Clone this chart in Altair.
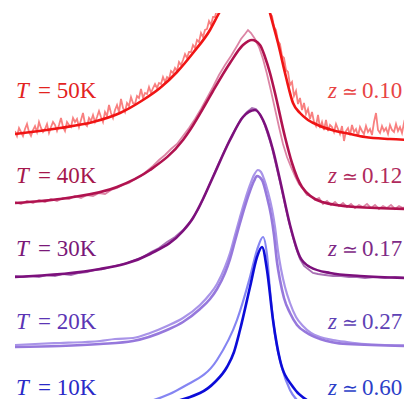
import altair as alt
import pandas as pd

temps = ["50K", "40K", "30K", "20K", "10K"]
z_labels = ["0.10", "0.12", "0.17", "0.27", "0.60"]
offsets = [267, 198, 129, 60, -8]
label_level = [309, 224, 151, 78, 12]

fit_colors = ["#f01414", "#b0124f", "#7c107c", "#9678dc", "#0c0cd8"]
data_colors = ["#f88080", "#dc85a5", "#a870b4", "#a994e8", "#8585f2"]
t_colors = ["#e3231f", "#a5174c", "#7a1878", "#5b35b5", "#2a2ac8"]
z_colors = ["#e84444", "#b02a5c", "#7e2a86", "#5e42b5", "#2c40c8"]

# ---- 50K ----
fit_50_x = [0, 45, 78, 105, 128, 145, 162, 178, 195, 203, 209, 215, 223, 230, 237, 243, 247, 251,
            253, 255, 263, 271, 278, 285, 293, 305, 317, 335, 350, 375, 397]
fit_50_y = [6, 12, 18, 27, 40, 52, 68, 87, 110, 125, 136, 147, 162, 173, 175, 168, 157, 143,
            135, 127, 97, 63, 37, 27, 20, 14, 10, 6, 3, 1, 0]
data_50_x = list(range(0, 211, 2)) + [216, 224, 232, 240, 247] + list(range(253, 398, 2))
data_50_y = [9, 4, 12, 8, 4, 11, 16, 8, 4, 10, 14, 8, 18, 12, 8, 11, 16, 7, 13, 18,
             15, 9, 15, 22, 13, 9, 18, 15, 13, 22, 18, 21, 13, 20, 27, 16, 14, 22, 19, 25,
             18, 23, 29, 23, 18, 28, 24, 35, 27, 22, 30, 35, 28, 41, 32, 28, 37, 34, 43, 37,
             36, 44, 42, 51, 42, 47, 46, 53, 47, 52, 56, 52, 57, 56, 63, 58, 63, 61, 69, 67,
             72, 69, 78, 75, 80, 86, 82, 88, 88, 95, 92, 100, 98, 107, 103, 110, 111, 119, 115, 123,
             123, 131, 130, 140, 139, 146,
             165, 185, 196, 196, 180,
             138, 126, 124, 113, 110, 99, 96, 84, 82, 70, 68, 55, 58, 44, 49, 36, 42, 30, 37, 26,
             31, 21, 28, 18, 14, 25, 12, 18, 10, 20, 9, 15, 13, 8, 16, 11, 6, 14, -1, 9,
             12, 5, 15, 8, 11, 4, 13, 9, 6, 14, 8, 11, 5, 18, 27, 10, 7, 14, 9, 12,
             6, 15, 10, 8, 16, 9, 13, 7, 17, 11, 8, 14, 10]

# ---- 40K ----
fit_40_x = [0, 52, 102, 135, 168, 175, 190, 198, 215, 228, 237, 245, 250, 255, 260, 270, 277, 287, 307, 340, 397]
fit_40_y = [6, 11, 22, 39, 69, 79, 104, 118, 146, 164, 169, 164, 152, 136, 116, 72, 46, 22, 7, 2, 0]
data_40_x = (list(range(0, 223, 6)) + [226, 230, 233, 236, 240, 244, 248]
             + list(range(252, 393, 4)) + [397])
data_40_y = [7, 5, 8, 6, 9, 7, 10, 8, 11, 10, 13, 11, 14, 13, 16, 15, 19, 21, 24, 26,
             30, 33, 38, 43, 49, 54, 60, 65, 73, 81, 90, 100, 111, 122, 134, 144, 153, 163,
             170, 175, 179, 176, 170, 162, 150,
             135, 118, 100, 82, 65, 52, 42, 33, 25, 20, 14, 13, 9, 11, 5, 8, 4, 7, 3, 6,
             2, 5, 1, 4, 2, 5, 1, 4, 0, 3, 1, 4, 0, 3, 1, 3,
             1]

# ---- 30K ----
fit_30_x = [0, 85, 135, 168, 178, 188, 198, 215, 228, 240, 248, 258, 265, 275, 285, 295, 315, 345, 397]
fit_30_y = [1, 9, 24, 47, 60, 79, 101, 138, 161, 168, 158, 128, 98, 53, 21, 11, 5, 2, 0]
data_30_x = (list(range(0, 185, 8)) + list(range(190, 233, 6)) + list(range(237, 294, 4))
             + [298, 303, 310, 318, 326, 334, 342, 350, 360, 370, 380, 390, 397])
data_30_y = [2, 1, 2, 1, 3, 2, 4, 3, 5, 6, 8, 9, 11, 13, 15, 18, 21, 26, 30, 36, 41, 48, 57, 70,
             83, 97, 111, 124, 137, 148, 159, 166,
             170, 169, 164, 155, 143, 130, 113, 96, 78, 60, 44, 30, 19, 12, 9,
             5, 4, 3, 2, 2, 1, 1, 0, 1, 0, 1, 0, 0]

# ---- 20K ----
fit_20_x = [0, 45, 85, 118, 152, 168, 185, 195, 202, 210, 215, 220, 225, 230, 235, 239, 242, 247,
            252, 256, 259, 262, 265, 269, 275, 282, 292, 305, 332, 397]
fit_20_y = [0, 1, 3, 6, 17, 25, 38, 48, 58, 74, 88, 106, 124, 141, 156, 166, 171, 167,
            150, 132, 112, 85, 67, 49, 34, 22, 14, 8, 3, 1]
data_20_x = [0, 20, 45, 70, 85, 100, 118, 135, 152, 168, 185, 195, 202, 210, 215, 220, 225, 230,
             235, 239, 243, 246, 249, 253, 257, 260, 263, 266, 270, 275, 281, 288, 296, 305,
             318, 332, 350, 370, 397]
data_20_y = [2, 3, 4, 5, 6, 8, 9, 14, 21, 29, 42, 53, 63, 80, 94, 112, 130, 147,
             162, 172, 177, 175, 168, 155, 138, 120, 96, 78, 60, 44, 30, 21, 14, 10,
             7, 5, 3, 2, 1]

# ---- 10K ----
fit_10_x = [0, 65, 125, 185, 200, 212, 219, 225, 235, 242, 247, 252, 258, 265, 278, 295, 308, 335, 397]
fit_10_y = [1, 4, 8, 22, 33, 48, 63, 85, 128, 158, 168, 145, 95, 55, 28, 13, 7, 3, 1]
data_10_x = [0, 65, 95, 128, 168, 202, 222, 235, 242, 248, 252, 255, 260, 267, 275, 285, 297, 335, 397]
data_10_y = [2, 5, 8, 12, 28, 55, 95, 138, 165, 178, 160, 125, 80, 47, 25, 12, 5, 2, 1]

curves = {
    "50K": (fit_50_x, fit_50_y, data_50_x, data_50_y),
    "40K": (fit_40_x, fit_40_y, data_40_x, data_40_y),
    "30K": (fit_30_x, fit_30_y, data_30_x, data_30_y),
    "20K": (fit_20_x, fit_20_y, data_20_x, data_20_y),
    "10K": (fit_10_x, fit_10_y, data_10_x, data_10_y),
}

rows = []
for t, off in zip(temps, offsets):
    fx, fy, dx, dy = curves[t]
    assert len(fx) == len(fy), (t, "fit", len(fx), len(fy))
    assert len(dx) == len(dy), (t, "data", len(dx), len(dy))
    for i, (a, b) in enumerate(zip(fx, fy)):
        rows.append({"T": t, "kind": "fit", "series": t + " fit", "x": a, "y": b + off, "o": i})
    for i, (a, b) in enumerate(zip(dx, dy)):
        rows.append({"T": t, "kind": "data", "series": t + " data", "x": a, "y": b + off, "o": i})
df = pd.DataFrame(rows)

df_fit = df[df.kind == "fit"]
df_noisy = df[(df.kind == "data") & df["T"].isin(["50K", "40K", "30K"])]
df_smooth = df[(df.kind == "data") & df["T"].isin(["20K", "10K"])]

xs = alt.Scale(domain=[0, 389], nice=False, zero=False)
ys = alt.Scale(domain=[8, 394], nice=False, zero=False)
color_scale = alt.Scale(domain=[t + " fit" for t in temps] + [t + " data" for t in temps],
                        range=fit_colors + data_colors)


def lines(frame, interp, width):
    return alt.Chart(frame).mark_line(interpolate=interp, strokeWidth=width, clip=True).encode(
        x=alt.X("x:Q", scale=xs, axis=None),
        y=alt.Y("y:Q", scale=ys, axis=None),
        color=alt.Color("series:N", scale=color_scale, legend=None),
        detail="series:N",
        order=alt.Order("o:Q"),
    )


serif = "Liberation Serif"
lab = pd.DataFrame({
    "T": temps, "z": z_labels, "ly": label_level,
    "tcol": t_colors, "zcol": z_colors,
})
lab["rest"] = "= " + lab["T"]


def text_layer(xval, text, col, italic, size=23):
    kw = dict(font=serif, fontSize=size, align="left", baseline="alphabetic")
    if italic:
        kw["fontStyle"] = "italic"
    return alt.Chart(lab).mark_text(**kw).encode(
        x=alt.XDatum(xval, scale=xs, axis=None),
        y=alt.Y("ly:Q", scale=ys, axis=None),
        text=text,
        color=alt.Color(col, scale=None),
    )


chart = alt.layer(
    lines(df_noisy, "linear", 1.8),
    lines(df_smooth, "monotone", 2.2),
    lines(df_fit, "monotone", 2.6),
    text_layer(1, alt.value("T"), "tcol:N", True),
    text_layer(23, alt.Text("rest:N"), "tcol:N", False),
    text_layer(313, alt.value("z"), "zcol:N", True),
    text_layer(327, alt.value("\u2243"), "zcol:N", False, 19),
    text_layer(347, alt.Text("z:N"), "zcol:N", False),
).properties(
    width=389, height=386,
    padding={"left": 7, "top": 5, "right": 0, "bottom": 0},
    autosize=alt.AutoSizeParams(type="none"),
).configure_view(stroke=None)

chart.save("out.html", embed_options={"renderer": "svg", "actions": False})
